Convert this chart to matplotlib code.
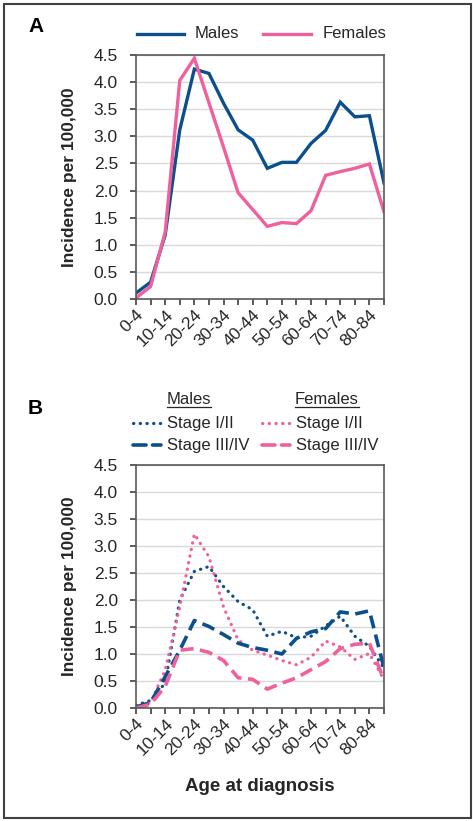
import numpy as np
import matplotlib.pyplot as plt
from matplotlib.lines import Line2D
from matplotlib.patches import Rectangle

plt.rcParams['font.family'] = ['Liberation Sans', 'DejaVu Sans']

ages = ["0-4", "5-9", "10-14", "15-19", "20-24", "25-29", "30-34", "35-39",
        "40-44", "45-49", "50-54", "55-59", "60-64", "65-69", "70-74",
        "75-79", "80-84", "85+"]

# panel A: overall incidence
males = [0.11, 0.31, 1.18, 3.12, 4.24, 4.16, 3.61, 3.12, 2.93, 2.41,
         2.52, 2.52, 2.87, 3.11, 3.63, 3.36, 3.38, 2.14]
females = [0.02, 0.23, 1.23, 4.03, 4.44, 3.62, 2.80, 1.96, 1.65, 1.34,
           1.41, 1.39, 1.63, 2.28, 2.35, 2.41, 2.49, 1.61]

# panel B: by stage
m_early = [0.05, 0.14, 0.46, 2.00, 2.53, 2.62, 2.25, 1.97, 1.82, 1.33,
           1.42, 1.30, 1.33, 1.52, 1.70, 1.33, 1.14, 0.74]
m_late = [0.02, 0.10, 0.58, 1.07, 1.62, 1.51, 1.36, 1.20, 1.12, 1.07,
          1.00, 1.29, 1.41, 1.47, 1.78, 1.74, 1.80, 0.74]
f_early = [0.00, 0.10, 0.70, 1.87, 3.22, 2.80, 1.87, 1.26, 1.07, 0.98,
           0.88, 0.80, 0.94, 1.24, 1.13, 0.90, 1.01, 0.52]
f_late = [0.00, 0.07, 0.40, 1.07, 1.10, 1.03, 0.88, 0.56, 0.53, 0.35,
          0.46, 0.56, 0.71, 0.86, 1.10, 1.18, 1.20, 0.52]

BLUE = "#0B4F8C"
PINK = "#F0609C"
TXT = "#262626"
DOT = (0, (0.1, 2.0))
DASH = (0, (3.6, 1.8))
W, H = 473, 821

fig = plt.figure(figsize=(W / 100, H / 100), dpi=100)


def fx(px):
    return px / W


def fy(py):
    return 1 - py / H


def style_axes(ax):
    x = np.arange(len(ages))
    ax.set_xlim(0, len(ages) - 1)
    ax.set_ylim(0, 4.5)
    ax.set_yticks(np.arange(0, 4.51, 0.5))
    ax.set_yticklabels([f"{v:.1f}" for v in np.arange(0, 4.51, 0.5)])
    ax.set_xticks(x)
    ax.set_xticklabels([a if i % 2 == 0 else "" for i, a in enumerate(ages)],
                       rotation=45, ha="right", va="top", rotation_mode="anchor")
    ax.grid(axis="y", color="#d9d9d9", lw=1)
    ax.set_axisbelow(True)
    for s in ax.spines.values():
        s.set_color("#595959")
        s.set_linewidth(1.2)
    ax.tick_params(axis="both", colors="#404040", labelsize=12.5, length=4,
                   width=1.2, labelcolor=TXT)
    ax.tick_params(axis="x", pad=2)
    ax.tick_params(axis="y", pad=9)
    ax.set_ylabel("Incidence per 100,000", fontsize=12.5, fontweight="bold",
                  color=TXT, labelpad=12)


axA = fig.add_axes([fx(136), fy(299), fx(384 - 136), (299 - 55) / H])
x = np.arange(len(ages))
axA.plot(x, males, color=BLUE, lw=2.4, solid_joinstyle="miter")
axA.plot(x, females, color=PINK, lw=2.4, solid_joinstyle="miter")
style_axes(axA)

axB = fig.add_axes([fx(136), fy(708), fx(384 - 136), (708 - 465) / H])
axB.plot(x, m_early, color=BLUE, lw=2.3, linestyle=DOT, dash_capstyle="round")
axB.plot(x, f_early, color=PINK, lw=2.3, linestyle=DOT, dash_capstyle="round")
axB.plot(x, m_late, color=BLUE, lw=2.6, linestyle=DASH)
axB.plot(x, f_late, color=PINK, lw=2.6, linestyle=DASH)
style_axes(axB)
axB.set_xlabel("Age at diagnosis", fontsize=13.5, fontweight="bold",
               color=TXT, labelpad=14)

# panel letters
fig.text(fx(28), fy(27), "A", fontsize=15, fontweight="bold", va="center")
fig.text(fx(28), fy(408), "B", fontsize=15, fontweight="bold", va="center")

# legend A
ly = fy(34)
fig.add_artist(Line2D([fx(137), fx(184)], [ly, ly], color=BLUE, lw=2.4))
fig.text(fx(195), ly, "Males", fontsize=12, va="center", color=TXT)
fig.add_artist(Line2D([fx(263), fx(311)], [ly, ly], color=PINK, lw=2.4))
fig.text(fx(323), ly, "Females", fontsize=12, va="center", color=TXT)

# legend B
fig.text(fx(167), fy(399), "Males", fontsize=12, va="center", color=TXT)
fig.text(fx(295), fy(399), "Females", fontsize=12, va="center", color=TXT)
fig.add_artist(Line2D([fx(167), fx(211)], [fy(407.5), fy(407.5)], color=TXT, lw=0.9))
fig.add_artist(Line2D([fx(295), fx(359)], [fy(407.5), fy(407.5)], color=TXT, lw=0.9))
for row_y, ls, lw, lab in [(423, DOT, 2.3, "Stage I/II"),
                           (445, DASH, 2.6, "Stage III/IV")]:
    for x0, col in [(133, BLUE), (262, PINK)]:
        fig.add_artist(Line2D([fx(x0), fx(x0 + 28)], [fy(row_y), fy(row_y)],
                              color=col, lw=lw, linestyle=ls,
                              dash_capstyle="round"))
        fig.text(fx(x0 + 34), fy(row_y), lab, fontsize=12, va="center",
                 color=TXT)

# outer frame
fig.add_artist(Rectangle((fx(4), fy(818)), fx(467), (818 - 4) / H,
                         transform=fig.transFigure, fill=False,
                         edgecolor="#404040", lw=1.5))

fig.savefig("out.png", dpi=100)
